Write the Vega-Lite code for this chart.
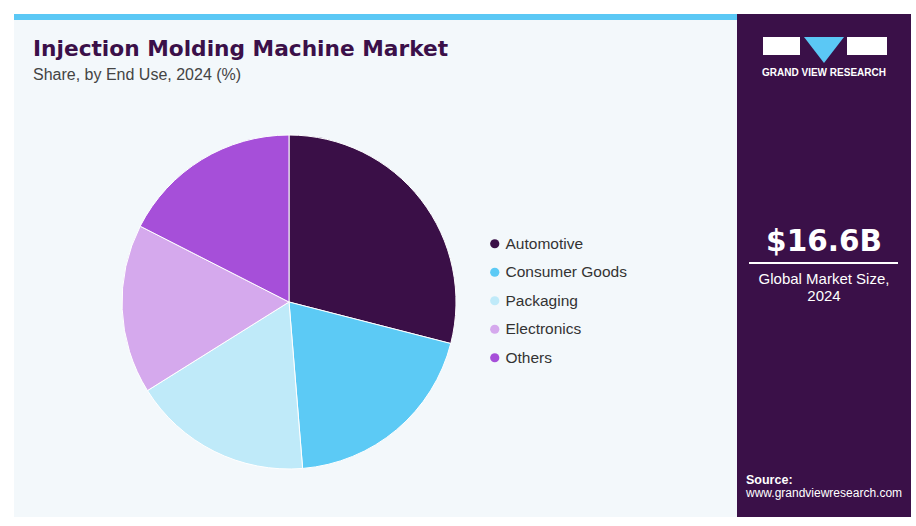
{
  "$schema": "https://vega.github.io/schema/vega-lite/v6.json",
  "padding": {"left": 14, "top": 14, "right": 5, "bottom": 9},
  "background": "white",
  "spacing": 0,
  "config": {"view": {"stroke": null}, "concat": {"spacing": 0}},
  "datasets": {
    "share": [
      {"End Use": "Automotive", "share": 29.0, "rank": 1},
      {"End Use": "Consumer Goods", "share": 19.7, "rank": 2},
      {"End Use": "Packaging", "share": 17.4, "rank": 3},
      {"End Use": "Electronics", "share": 16.4, "rank": 4},
      {"End Use": "Others", "share": 17.5, "rank": 5}
    ],
    "none": [],
    "one": [{}],
    "big": [{"label": "$16.6B"}],
    "brand": [{"label": "GRAND VIEW RESEARCH"}],
    "size": [{"label": "Global Market Size,\n2024"}]
  },
  "hconcat": [
    {
      "spacing": 0,
      "vconcat": [
        {"width": 723, "height": 6, "data": {"name": "none"}, "mark": "point", "view": {"fill": "#5bc8f5"}},
        {
          "width": 723, "height": 67, "data": {"name": "none"}, "mark": "point", "view": {"fill": "#f3f8fb"},
          "title": {
            "text": "Injection Molding Machine Market",
            "subtitle": "Share, by End Use, 2024 (%)",
            "anchor": "start", "frame": "group", "orient": "top", "dx": 19, "offset": -63,
            "font": "DejaVu Sans", "fontSize": 21.7, "fontWeight": "bold", "color": "#3b1049",
            "subtitleFont": "Liberation Sans", "subtitleFontSize": 16, "subtitleColor": "#444444", "subtitlePadding": 6
          }
        },
        {
          "spacing": 0,
          "bounds": "flush",
          "resolve": {"scale": {"color": "independent"}, "legend": {"color": "independent"}},
          "hconcat": [
            {"width": 108, "height": 430, "data": {"name": "none"}, "mark": "point", "view": {"fill": "#f3f8fb"}},
            {
              "width": 334, "height": 430, "data": {"name": "share"},
              "view": {"fill": "#f3f8fb"},
              "mark": {"type": "arc", "outerRadius": 167, "stroke": "white", "strokeWidth": 1},
              "encoding": {
                "theta": {"field": "share", "type": "quantitative", "stack": true},
                "order": {"field": "rank", "type": "quantitative"},
                "color": {
                  "field": "End Use", "type": "nominal",
                  "scale": {"domain": ["Automotive", "Consumer Goods", "Packaging", "Electronics", "Others"],
                            "range": ["#3a0f47", "#5ccaf5", "#bfeaf9", "#d5a9ed", "#a64fd9"]},
                  "legend": null
                }
              }
            },
            {
              "width": 281, "height": 430, "data": {"name": "share"},
              "view": {"fill": "#f3f8fb"},
              "mark": {"type": "circle", "opacity": 0},
              "encoding": {
                "color": {
                  "field": "End Use", "type": "nominal",
                  "scale": {"domain": ["Automotive", "Consumer Goods", "Packaging", "Electronics", "Others"],
                            "range": ["#3a0f47", "#5ccaf5", "#bfeaf9", "#d5a9ed", "#a64fd9"]},
                  "legend": {
                    "orient": "none", "legendX": 31, "legendY": 149, "title": null,
                    "symbolType": "circle", "symbolSize": 85, "symbolStrokeWidth": 0,
                    "labelFont": "Liberation Sans", "labelFontSize": 15.5, "labelColor": "#333333",
                    "labelOffset": 3, "rowPadding": 11.5, "padding": 0
                  }
                }
              }
            }
          ]
        }
      ]
    },
    {
      "spacing": 0,
      "vconcat": [
        {"width": 174, "height": 23, "data": {"name": "none"}, "mark": "point", "view": {"fill": "#3a1048"}},
        {
          "spacing": 0,
          "hconcat": [
            {"width": 26, "height": 26, "data": {"name": "none"}, "mark": "point", "view": {"fill": "#3a1048"}},
            {
              "spacing": 0,
              "vconcat": [
                {"width": 37, "height": 18, "data": {"name": "none"}, "mark": "point", "view": {"fill": "#ffffff"}},
                {"width": 37, "height": 8, "data": {"name": "none"}, "mark": "point", "view": {"fill": "#3a1048"}}
              ]
            },
            {"width": 4, "height": 26, "data": {"name": "none"}, "mark": "point", "view": {"fill": "#3a1048"}},
            {
              "width": 40, "height": 26, "data": {"name": "one"}, "view": {"fill": "#3a1048"},
              "mark": {"type": "point", "shape": "M-1,-0.65L1,-0.65L0,0.65Z", "size": 1600, "filled": true, "color": "#5bc8f5", "opacity": 1, "strokeWidth": 0}
            },
            {"width": 3, "height": 26, "data": {"name": "none"}, "mark": "point", "view": {"fill": "#3a1048"}},
            {
              "spacing": 0,
              "vconcat": [
                {"width": 40, "height": 18, "data": {"name": "none"}, "mark": "point", "view": {"fill": "#ffffff"}},
                {"width": 40, "height": 8, "data": {"name": "none"}, "mark": "point", "view": {"fill": "#3a1048"}}
              ]
            },
            {"width": 24, "height": 26, "data": {"name": "none"}, "mark": "point", "view": {"fill": "#3a1048"}}
          ]
        },
        {
          "width": 174, "height": 19, "data": {"name": "brand"}, "view": {"fill": "#3a1048"},
          "mark": {"type": "text", "font": "Liberation Sans", "fontWeight": "bold", "fontSize": 10, "color": "#ffffff", "baseline": "middle"},
          "encoding": {"text": {"field": "label", "type": "nominal"}}
        },
        {"width": 174, "height": 140, "data": {"name": "none"}, "mark": "point", "view": {"fill": "#3a1048"}},
        {
          "width": 174, "height": 36, "data": {"name": "big"}, "view": {"fill": "#3a1048"},
          "mark": {"type": "text", "font": "DejaVu Sans", "fontWeight": "bold", "fontSize": 29.5, "color": "#ffffff", "baseline": "middle", "dy": 2},
          "encoding": {"text": {"field": "label", "type": "nominal"}}
        },
        {"width": 174, "height": 4, "data": {"name": "none"}, "mark": "point", "view": {"fill": "#3a1048"}},
        {
          "spacing": 0,
          "hconcat": [
            {"width": 12, "height": 2, "data": {"name": "none"}, "mark": "point", "view": {"fill": "#3a1048"}},
            {"width": 149, "height": 2, "data": {"name": "none"}, "mark": "point", "view": {"fill": "#ffffff"}},
            {"width": 13, "height": 2, "data": {"name": "none"}, "mark": "point", "view": {"fill": "#3a1048"}}
          ]
        },
        {
          "width": 174, "height": 46, "data": {"name": "size"}, "view": {"fill": "#3a1048"},
          "mark": {"type": "text", "font": "Liberation Sans", "fontSize": 15, "color": "#ffffff", "baseline": "middle", "lineBreak": "\n", "lineHeight": 17, "dy": -8},
          "encoding": {"text": {"field": "label", "type": "nominal"}}
        },
        {"width": 174, "height": 160, "data": {"name": "none"}, "mark": "point", "view": {"fill": "#3a1048"}},
        {
          "width": 174, "height": 35, "data": {"name": "none"}, "mark": "point", "view": {"fill": "#3a1048"},
          "title": {
            "text": "Source:", "subtitle": "www.grandviewresearch.com",
            "anchor": "start", "frame": "group", "orient": "top", "dx": 9, "offset": -29,
            "font": "Liberation Sans", "fontSize": 12.5, "fontWeight": "bold", "color": "#ffffff",
            "subtitleFont": "Liberation Sans", "subtitleFontSize": 12, "subtitleColor": "#ffffff", "subtitlePadding": 2
          }
        },
        {"width": 174, "height": 12, "data": {"name": "none"}, "mark": "point", "view": {"fill": "#3a1048"}}
      ]
    }
  ]
}
